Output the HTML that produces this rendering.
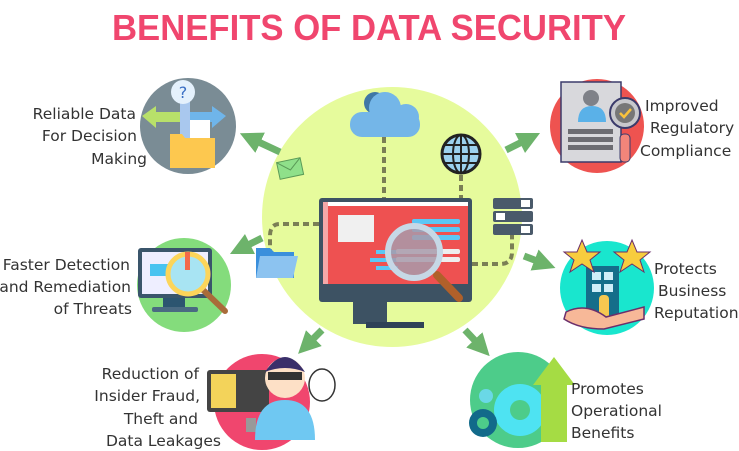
<!DOCTYPE html>
<html><head><meta charset="utf-8"><style>
html,body{margin:0;padding:0;background:#fff;}
svg{display:block}
text{font-family:"DejaVu Sans","Liberation Sans",sans-serif;fill:#333;}
</style></head><body>
<svg width="739" height="451" viewBox="0 0 739 451" xmlns="http://www.w3.org/2000/svg">
<defs>
<marker id="ah" viewBox="0 0 10 10" refX="5" refY="5" markerWidth="3.2" markerHeight="3.2" orient="auto"><path d="M0,0 L10,5 L0,10 z" fill="#6db36b"/></marker>
</defs>
<text x="369" y="40" text-anchor="middle" font-size="36" font-weight="bold" style="fill:#f0466e;font-family:'Liberation Sans',sans-serif" textLength="514" lengthAdjust="spacingAndGlyphs">BENEFITS OF DATA SECURITY</text>

<!-- big circle -->
<circle cx="392" cy="217" r="130" fill="#e6fb9c"/>

<!-- arrows -->
<g stroke="#6db36b" stroke-width="7" marker-end="url(#ah)">
<line x1="280" y1="152" x2="250" y2="138"/>
<line x1="262" y1="238" x2="240" y2="249"/>
<line x1="322" y1="330" x2="306" y2="346"/>
<line x1="506" y1="150" x2="530" y2="138"/>
<line x1="524" y1="256" x2="545" y2="264"/>
<line x1="465" y1="330" x2="482" y2="348"/>
</g>

<!-- dashed connectors -->
<g stroke="#7a7f55" stroke-width="4" stroke-dasharray="6,4" fill="none">
<line x1="384" y1="137" x2="384" y2="198"/>
<line x1="461" y1="175" x2="461" y2="198"/>
<path d="M319,224 H280 Q270,224 270,236 V250"/>
<path d="M472,264 H500 Q512,264 512,252 V235"/>
</g>

<!-- cloud -->
<g>
<circle cx="375" cy="103" r="11" fill="#3f77a6"/>
<circle cx="385" cy="108" r="16" fill="#74b6e8"/>
<circle cx="406" cy="117" r="13" fill="#74b6e8"/>
<rect x="350" y="112" width="70" height="25" rx="12" fill="#74b6e8"/>
</g>
<!-- globe -->
<circle cx="461" cy="154" r="19" fill="#9cd1ee" stroke="#222" stroke-width="3"/>
<g stroke="#222" stroke-width="2" fill="none"><ellipse cx="461" cy="154" rx="8" ry="19"/><line x1="442" y1="154" x2="480" y2="154"/><line x1="461" y1="135" x2="461" y2="173"/><line x1="445" y1="145" x2="477" y2="145"/><line x1="445" y1="163" x2="477" y2="163"/></g>
<!-- mail -->
<g transform="rotate(-12 290 168)"><rect x="278" y="160" width="24" height="17" fill="#8fe08a" stroke="#5a9a57"/><path d="M278,160 L290,170 L302,160" stroke="#5a9a57" fill="none"/></g>
<!-- server -->
<g fill="#4a5a6a"><rect x="493" y="198" width="40" height="11" rx="2"/><rect x="493" y="211" width="40" height="11" rx="2"/><rect x="493" y="224" width="40" height="11" rx="2"/></g>
<g fill="#fff"><rect x="521" y="200" width="9" height="7"/><rect x="496" y="213" width="9" height="7"/><rect x="521" y="226" width="9" height="7"/></g>
<!-- folder -->
<path d="M256,248 h14 l4,4 h20 v26 h-38z" fill="#3a8fdc"/>
<path d="M260,256 h38 l-5,22 h-37z" fill="#8cc3f0"/>

<!-- monitor -->
<rect x="319" y="198" width="153" height="104" rx="3" fill="#3d5263"/>
<rect x="323" y="202" width="145" height="82" fill="#ee5151"/>
<rect x="323" y="202" width="145" height="4" fill="#fff"/>
<rect x="323" y="202" width="5" height="82" fill="#f4a8a8"/>
<rect x="338" y="215" width="36" height="27" fill="#f0f0f0"/>
<g fill="#5cc6f5"><rect x="412" y="219" width="48" height="5" rx="2"/><rect x="412" y="227" width="48" height="5" rx="2"/><rect x="412" y="235" width="48" height="5" rx="2"/><rect x="376" y="250" width="22" height="4"/><rect x="370" y="258" width="30" height="4"/><rect x="376" y="266" width="22" height="4"/></g>
<rect x="396" y="249" width="64" height="5" rx="2" fill="#eee"/><rect x="396" y="257" width="64" height="5" rx="2" fill="#eee"/>
<rect x="353" y="302" width="34" height="22" fill="#3d5263"/>
<rect x="366" y="322" width="58" height="6" fill="#2f4257"/>
<line x1="437" y1="275" x2="459" y2="298" stroke="#b0602a" stroke-width="8" stroke-linecap="round"/>
<circle cx="414" cy="252" r="26" fill="#a89aaa" fill-opacity="0.85" stroke="#c6d8e6" stroke-width="6"/>

<!-- side circles -->
<circle cx="188" cy="126" r="48" fill="#7a8c95"/>
<path d="M142,116 l14,-10 v6 h30 v10 h-30 v6z" fill="#b8e06a"/>
<path d="M226,116 l-14,-10 v6 h-22 v10 h22 v6z" fill="#6fb5ea"/>
<rect x="180" y="98" width="10" height="40" fill="#a9c8ee"/>
<circle cx="183" cy="92" r="12" fill="#e4f1fc"/><text x="183" y="98" text-anchor="middle" font-size="16" style="fill:#3a6fc4">?</text>
<rect x="190" y="120" width="20" height="20" fill="#fff"/>
<path d="M170,134 h12 l3,4 h30 v30 h-45z" fill="#fdc84f"/>

<circle cx="184" cy="285" r="47" fill="#84dc7c"/>
<rect x="138" y="248" width="74" height="50" rx="3" fill="#3a556b"/>
<rect x="142" y="252" width="66" height="42" fill="#eef"/>
<rect x="150" y="264" width="45" height="12" fill="#49c3f0"/>
<rect x="163" y="298" width="22" height="10" fill="#2c5570"/><rect x="152" y="307" width="46" height="5" rx="2" fill="#4a6a82"/>
<line x1="200" y1="287" x2="225" y2="311" stroke="#a96c3a" stroke-width="6" stroke-linecap="round"/>
<circle cx="188" cy="274" r="20" fill="#a8e4f3" stroke="#fcd55a" stroke-width="5"/>
<rect x="185" y="252" width="5" height="18" fill="#f36a4a"/>

<circle cx="262" cy="402" r="48" fill="#f0466e"/>
<rect x="207" y="370" width="62" height="42" rx="3" fill="#444"/>
<rect x="211" y="374" width="25" height="34" fill="#f3d35a"/>
<rect x="246" y="418" width="10" height="14" fill="#999"/>
<circle cx="285" cy="378" r="20" fill="#fde0c6"/>
<path d="M265,372 q20,-30 40,0 q-20,-8 -40,0z" fill="#3a2f6a"/>
<rect x="268" y="372" width="34" height="8" fill="#333"/>
<path d="M255,440 q0,-40 30,-40 q30,0 30,40z" fill="#6fc8f2"/>
<ellipse cx="322" cy="385" rx="13" ry="16" fill="#fff" stroke="#333" stroke-width="1.5"/>

<circle cx="597" cy="126" r="47" fill="#ee5350"/>
<rect x="561" y="82" width="60" height="80" fill="#d8d8dc" stroke="#3b3b6b" stroke-width="1.5"/>
<circle cx="591" cy="98" r="8" fill="#7f8188"/><path d="M578,122 q0,-16 14,-16 q14,0 14,16z" fill="#5ab1e8"/>
<g fill="#6c6c72"><rect x="568" y="129" width="45" height="5"/><rect x="568" y="137" width="45" height="5"/><rect x="568" y="145" width="45" height="5"/></g>
<rect x="620" y="134" width="10" height="28" rx="4" fill="#f2857a" stroke="#3b3b6b"/>
<circle cx="625" cy="113" r="15" fill="#c8c8cc" stroke="#3b3b6b" stroke-width="2"/><circle cx="625" cy="113" r="10" fill="#777"/>
<path d="M620,113 l4,4 l7,-8" stroke="#f8c23c" stroke-width="2.5" fill="none"/>

<circle cx="607" cy="288" r="47" fill="#19e6ce"/>
<rect x="586" y="266" width="33" height="55" fill="#156e8a"/>
<g fill="#d0eef8"><rect x="592" y="272" width="9" height="8"/><rect x="604" y="272" width="9" height="8"/><rect x="592" y="284" width="9" height="8"/><rect x="604" y="284" width="9" height="8"/></g>
<rect x="599" y="295" width="10" height="25" rx="4" fill="#f6c850"/>
<path d="M566,312 q20,-10 40,5 l38,-10 v12 l-40,10 q-25,0 -40,-10z" fill="#f7b898" stroke="#6b2f6b" stroke-width="1.5"/>
<g fill="#f7cd3e" stroke="#6b2f6b" stroke-width="1"><polygon points="582,240 587,252 600,252 590,260 594,272 582,264 570,272 574,260 564,252 577,252"/><polygon points="632,240 637,252 650,252 640,260 644,272 632,264 620,272 624,260 614,252 627,252"/></g>

<circle cx="518" cy="400" r="48" fill="#4dcc8a"/>
<circle cx="520" cy="410" r="26" fill="#4ee3f2"/><circle cx="520" cy="410" r="10" fill="#4dcc8a"/>
<circle cx="486" cy="396" r="7" fill="#6ad8e6"/>
<circle cx="483" cy="423" r="14" fill="#126a8a"/><circle cx="483" cy="423" r="6" fill="#4dcc8a"/>
<path d="M541,442 v-57 h-8 l21,-28 l21,28 h-8 v57z" fill="#a5dc44"/>

<!-- labels -->
<g font-size="15.5">
<g text-anchor="end">
<text x="136" y="119">Reliable Data</text><text x="137" y="141">For Decision</text><text x="147" y="164">Making</text>
<text x="130" y="270">Faster Detection</text><text x="131" y="292">and Remediation</text><text x="132" y="314">of Threats</text>
<text x="199" y="379">Reduction of</text><text x="200" y="401">Insider Fraud,</text><text x="198" y="424">Theft and</text><text x="221" y="446">Data Leakages</text>
</g>
<text x="645" y="111">Improved</text><text x="650" y="133">Regulatory</text><text x="640" y="156">Compliance</text>
<text x="654" y="274">Protects</text><text x="658" y="296">Business</text><text x="654" y="318">Reputation</text>
<text x="571" y="394">Promotes</text><text x="571" y="416">Operational</text><text x="571" y="438">Benefits</text>
</g>
</svg>
</body></html>
